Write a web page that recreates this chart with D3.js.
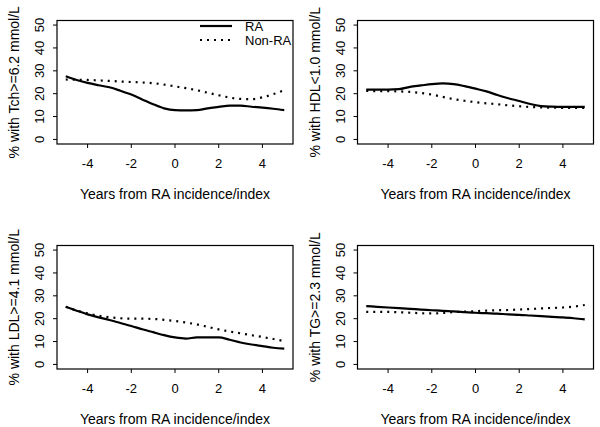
<!DOCTYPE html>
<html><head><meta charset="utf-8">
<script src="https://cdn.jsdelivr.net/npm/d3@7"></script>
<style>body{margin:0;background:#fff}svg{display:block}text{font-family:"Liberation Sans",Arial,sans-serif;fill:#000}</style>
</head><body><svg id="c" width="600" height="427"></svg>
<script>
const years = [-5,-4.5,-4,-3.5,-3,-2.5,-2,-1.5,-1,-0.5,0,0.5,1,1.5,2,2.5,3,3.5,4,4.5,5];
const xTicks = [-4,-2,0,2,4];
const yTicks = [0,10,20,30,40,50];
const legendLabels = ["RA","Non-RA"];
const panelTitles = ["% with Tch>=6.2 mmol/L","% with HDL<1.0 mmol/L","% with LDL>=4.1 mmol/L","% with TG>=2.3 mmol/L"];
const xTitle = "Years from RA incidence/index";

const tchRA    = [27.6,26,24.7,23.7,22.8,21.3,19.6,17.5,15.4,13.6,12.8,12.7,12.8,13.6,14.2,14.8,14.8,14.3,13.9,13.4,12.8];
const tchNonRA = [26.2,26.1,26,25.8,25.6,25.3,25.1,24.9,24.6,24,23.2,22.4,21.5,20.4,19.3,18.3,17.7,17.6,18.4,19.8,21.5];
const hdlRA    = [21.8,21.8,21.8,22,23,23.6,24.2,24.5,24.2,23.3,22.2,21,19.4,18,16.8,15.5,14.6,14.3,14.2,14.2,14.2];
const hdlNonRA = [21.2,21.1,21.1,21,20.8,20.3,19.6,18.6,17.6,16.9,16.3,15.8,15.4,14.9,14.5,14.2,14,13.9,13.8,13.8,13.8];
const ldlRA    = [25.2,23.5,21.9,20.6,19.4,18.1,16.8,15.4,14.1,12.8,11.8,11.3,11.8,11.8,11.8,10.8,9.6,8.7,8,7.3,6.9];
const ldlNonRA = [25.2,23.6,22.3,21.3,20.6,20.2,20,20,19.9,19.5,19,18.3,17.5,16.4,15.3,14.4,13.6,12.8,12,11.1,10.2];
const tgRA     = [25.5,25.2,24.9,24.6,24.3,24,23.7,23.4,23.2,22.9,22.6,22.4,22.2,21.9,21.7,21.4,21.1,20.8,20.6,20.2,19.7];
const tgNonRA  = [23,23,23,22.8,22.6,22.4,22.3,22.5,22.9,23.1,23.3,23.5,23.7,23.8,24,24.2,24.5,24.7,24.9,25.3,26];

const panels = [
  {title: panelTitles[0], ra: tchRA, non: tchNonRA, left: 57, top: 20.5, legend: true},
  {title: panelTitles[1], ra: hdlRA, non: hdlNonRA, left: 357.5, top: 20.5},
  {title: panelTitles[2], ra: ldlRA, non: ldlNonRA, left: 57, top: 245.5},
  {title: panelTitles[3], ra: tgRA, non: tgNonRA, left: 357.5, top: 245.5}
];
const W = 236, H = 123.5;
const svg = d3.select("#c");
svg.append("rect").attr("width",600).attr("height",427).attr("fill","#fff");

panels.forEach(p => {
  const g = svg.append("g").attr("transform",`translate(${p.left},${p.top})`);
  const x = d3.scaleLinear().domain([-5.4,5.4]).range([0,W]);
  const y = d3.scaleLinear().domain([-2,52]).range([H,0]);
  g.append("rect").attr("width",W).attr("height",H).attr("fill","none").attr("stroke","#000").attr("stroke-width",1.2);
  xTicks.forEach(t => {
    g.append("line").attr("x1",x(t)).attr("x2",x(t)).attr("y1",H).attr("y2",H+4).attr("stroke","#000");
    g.append("text").attr("x",x(t)).attr("y",H+24).attr("text-anchor","middle").attr("font-size",13).text(t === 0 ? "0" : (t<0? "-"+Math.abs(t): t));
  });
  yTicks.forEach(t => {
    g.append("line").attr("x1",-4).attr("x2",0).attr("y1",y(t)).attr("y2",y(t)).attr("stroke","#000");
    g.append("text").attr("transform",`translate(-13,${y(t)}) rotate(-90)`).attr("text-anchor","middle").attr("font-size",13).text(t);
  });
  g.append("text").attr("x",W/2).attr("y",H+55).attr("text-anchor","middle").attr("font-size",14).text(xTitle);
  g.append("text").attr("transform",`translate(-38,${H/2}) rotate(-90)`).attr("text-anchor","middle").attr("font-size",14).text(p.title);
  const line = d3.line().x((d,i)=>x(years[i])).y(d=>y(d)).curve(d3.curveMonotoneX);
  g.append("path").datum(p.non).attr("d",line).attr("fill","none").attr("stroke","#000").attr("stroke-width",2.2).attr("stroke-dasharray","2,5");
  g.append("path").datum(p.ra).attr("d",line).attr("fill","none").attr("stroke","#000").attr("stroke-width",2.2);
  if (p.legend) {
    const lg = g.append("g");
    lg.append("line").attr("x1",143).attr("x2",175).attr("y1",5.5).attr("y2",5.5).attr("stroke","#000").attr("stroke-width",2.2);
    lg.append("line").attr("x1",143).attr("x2",175).attr("y1",19.5).attr("y2",19.5).attr("stroke","#000").attr("stroke-width",2.2).attr("stroke-dasharray","2,5");
    lg.append("text").attr("x",188).attr("y",10).attr("font-size",13).text(legendLabels[0]);
    lg.append("text").attr("x",188).attr("y",24).attr("font-size",13).text(legendLabels[1]);
  }
});
</script></body></html>
